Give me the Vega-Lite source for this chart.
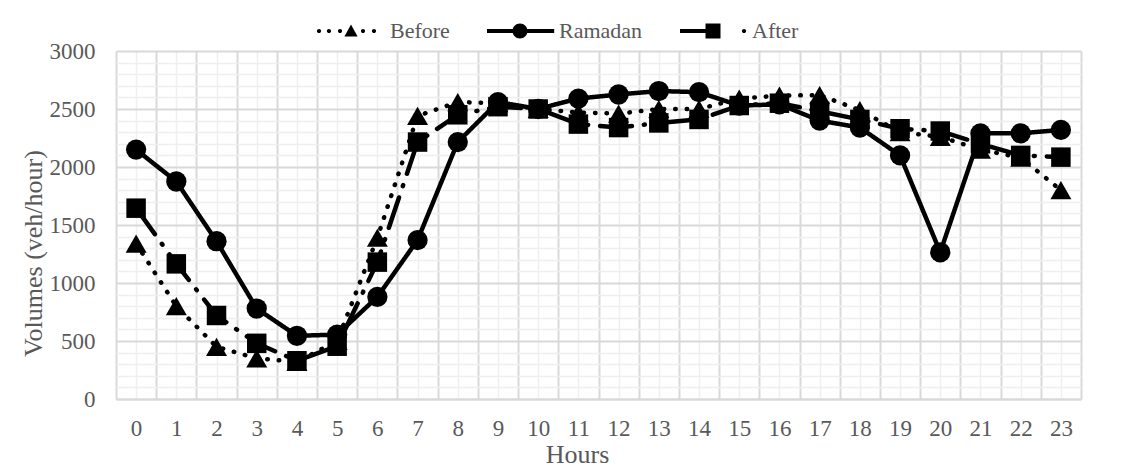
{
  "$schema": "https://vega.github.io/schema/vega-lite/v6.json",
  "width": 965,
  "height": 348,
  "autosize": "none",
  "padding": {"left": 116, "top": 51, "right": 45, "bottom": 70},
  "background": "white",
  "config": {
    "view": {"stroke": null},
    "font": "Liberation Serif"
  },
  "data": {
    "values": [
      {"hour": 0, "series": "Before", "volume": 1340},
      {"hour": 1, "series": "Before", "volume": 800},
      {"hour": 2, "series": "Before", "volume": 450},
      {"hour": 3, "series": "Before", "volume": 350},
      {"hour": 4, "series": "Before", "volume": 320},
      {"hour": 5, "series": "Before", "volume": 500},
      {"hour": 6, "series": "Before", "volume": 1390},
      {"hour": 7, "series": "Before", "volume": 2440},
      {"hour": 8, "series": "Before", "volume": 2560},
      {"hour": 9, "series": "Before", "volume": 2550},
      {"hour": 10, "series": "Before", "volume": 2500},
      {"hour": 11, "series": "Before", "volume": 2470},
      {"hour": 12, "series": "Before", "volume": 2460},
      {"hour": 13, "series": "Before", "volume": 2500},
      {"hour": 14, "series": "Before", "volume": 2500},
      {"hour": 15, "series": "Before", "volume": 2590},
      {"hour": 16, "series": "Before", "volume": 2615},
      {"hour": 17, "series": "Before", "volume": 2620},
      {"hour": 18, "series": "Before", "volume": 2490},
      {"hour": 19, "series": "Before", "volume": 2300},
      {"hour": 20, "series": "Before", "volume": 2260},
      {"hour": 21, "series": "Before", "volume": 2150},
      {"hour": 22, "series": "Before", "volume": 2080},
      {"hour": 23, "series": "Before", "volume": 1800},
      {"hour": 0, "series": "Ramadan", "volume": 2150},
      {"hour": 1, "series": "Ramadan", "volume": 1875},
      {"hour": 2, "series": "Ramadan", "volume": 1360},
      {"hour": 3, "series": "Ramadan", "volume": 780},
      {"hour": 4, "series": "Ramadan", "volume": 545},
      {"hour": 5, "series": "Ramadan", "volume": 555},
      {"hour": 6, "series": "Ramadan", "volume": 880},
      {"hour": 7, "series": "Ramadan", "volume": 1370},
      {"hour": 8, "series": "Ramadan", "volume": 2215},
      {"hour": 9, "series": "Ramadan", "volume": 2560},
      {"hour": 10, "series": "Ramadan", "volume": 2500},
      {"hour": 11, "series": "Ramadan", "volume": 2590},
      {"hour": 12, "series": "Ramadan", "volume": 2625},
      {"hour": 13, "series": "Ramadan", "volume": 2655},
      {"hour": 14, "series": "Ramadan", "volume": 2645},
      {"hour": 15, "series": "Ramadan", "volume": 2530},
      {"hour": 16, "series": "Ramadan", "volume": 2540},
      {"hour": 17, "series": "Ramadan", "volume": 2400},
      {"hour": 18, "series": "Ramadan", "volume": 2340},
      {"hour": 19, "series": "Ramadan", "volume": 2100},
      {"hour": 20, "series": "Ramadan", "volume": 1265},
      {"hour": 21, "series": "Ramadan", "volume": 2290},
      {"hour": 22, "series": "Ramadan", "volume": 2290},
      {"hour": 23, "series": "Ramadan", "volume": 2320},
      {"hour": 0, "series": "After", "volume": 1645},
      {"hour": 1, "series": "After", "volume": 1165},
      {"hour": 2, "series": "After", "volume": 720},
      {"hour": 3, "series": "After", "volume": 480},
      {"hour": 4, "series": "After", "volume": 330},
      {"hour": 5, "series": "After", "volume": 455},
      {"hour": 6, "series": "After", "volume": 1180},
      {"hour": 7, "series": "After", "volume": 2215},
      {"hour": 8, "series": "After", "volume": 2450},
      {"hour": 9, "series": "After", "volume": 2520},
      {"hour": 10, "series": "After", "volume": 2500},
      {"hour": 11, "series": "After", "volume": 2370},
      {"hour": 12, "series": "After", "volume": 2340},
      {"hour": 13, "series": "After", "volume": 2380},
      {"hour": 14, "series": "After", "volume": 2410},
      {"hour": 15, "series": "After", "volume": 2530},
      {"hour": 16, "series": "After", "volume": 2550},
      {"hour": 17, "series": "After", "volume": 2480},
      {"hour": 18, "series": "After", "volume": 2410},
      {"hour": 19, "series": "After", "volume": 2330},
      {"hour": 20, "series": "After", "volume": 2310},
      {"hour": 21, "series": "After", "volume": 2200},
      {"hour": 22, "series": "After", "volume": 2100},
      {"hour": 23, "series": "After", "volume": 2085}
    ]
  },
  "encoding": {
    "x": {
      "field": "hour",
      "type": "quantitative",
      "scale": {"domain": [-0.5, 23.5], "nice": false, "zero": false},
      "axis": {
        "values": [-0.5,0,0.5,1,1.5,2,2.5,3,3.5,4,4.5,5,5.5,6,6.5,7,7.5,8,8.5,9,9.5,10,10.5,11,11.5,12,12.5,13,13.5,14,14.5,15,15.5,16,16.5,17,17.5,18,18.5,19,19.5,20,20.5,21,21.5,22,22.5,23,23.5],
        "labelExpr": "datum.value % 1 === 0 ? format(datum.value, 'd') : ''",
        "labelOverlap": false,
        "labelFlush": false,
        "labelBound": false,
        "labelFontSize": 23,
        "labelColor": "#595959",
        "labelBaseline": "alphabetic",
        "labelPadding": 36,
        "ticks": false,
        "tickSize": 0,
        "grid": true,
        "gridColor": {"condition": {"test": "datum.value % 1 !== 0", "value": "#d9d9d9"}, "value": "#efefef"},
        "gridWidth": {"condition": {"test": "datum.value % 1 !== 0", "value": 2}, "value": 1.5},
        "domain": true,
        "domainColor": "#d9d9d9",
        "domainWidth": 2,
        "title": "Hours",
        "titleFontSize": 26,
        "titleFontWeight": "normal",
        "titleColor": "#595959",
        "titleX": 461,
        "titleY": 63,
        "titleBaseline": "alphabetic",
        "titleAlign": "center"
      }
    },
    "y": {
      "field": "volume",
      "type": "quantitative",
      "scale": {"domain": [0, 3000], "nice": false},
      "axis": {
        "values": [0,100,200,300,400,500,600,700,800,900,1000,1100,1200,1300,1400,1500,1600,1700,1800,1900,2000,2100,2200,2300,2400,2500,2600,2700,2800,2900,3000],
        "labelExpr": "datum.value % 500 === 0 ? format(datum.value, 'd') : ''",
        "labelOverlap": false,
        "labelFlush": false,
        "labelBound": false,
        "labelFontSize": 23,
        "labelColor": "#595959",
        "labelPadding": 21,
        "ticks": false,
        "tickSize": 0,
        "grid": true,
        "gridColor": {"condition": {"test": "datum.value % 500 === 0", "value": "#d9d9d9"}, "value": "#efefef"},
        "gridWidth": {"condition": {"test": "datum.value % 500 === 0", "value": 2}, "value": 1.5},
        "domain": false,
        "title": "Volumes (veh/hour)",
        "titleFontSize": 26,
        "titleFontWeight": "normal",
        "titleColor": "#595959",
        "titleAngle": 270,
        "titleX": -83,
        "titleY": 202,
        "titleBaseline": "middle",
        "titleAlign": "center"
      }
    }
  },
  "layer": [
    {
      "mark": {"type": "line", "color": "black", "strokeWidth": 4.5, "strokeCap": "round", "strokeJoin": "round"},
      "encoding": {
        "strokeDash": {
          "field": "series",
          "type": "nominal",
          "scale": {"domain": ["Before", "Ramadan", "After"], "range": [[0.5, 11], [1, 0], [32, 12, 1, 12]]},
          "legend": null
        }
      }
    },
    {
      "mark": {"type": "point", "filled": true, "color": "black", "opacity": 1},
      "encoding": {
        "shape": {
          "field": "series",
          "type": "nominal",
          "scale": {"domain": ["Before", "Ramadan", "After"], "range": ["triangle-up", "circle", "square"]},
          "legend": null
        },
        "size": {
          "field": "series",
          "type": "nominal",
          "scale": {"domain": ["Before", "Ramadan", "After"], "range": [441, 380, 361]},
          "legend": null
        }
      }
    },
    {
      "mark": {"type": "point", "filled": true, "color": "black", "opacity": 0},
      "encoding": {
        "shape": {
          "field": "series",
          "type": "nominal",
          "scale": {
            "domain": ["Before", "Ramadan", "After"],
            "range": [
              "M-1.18,0a0.35,0.35 0 1,1 0.7,0a0.35,0.35 0 1,1 -0.7,0Z M0.48,0a0.35,0.35 0 1,1 0.7,0a0.35,0.35 0 1,1 -0.7,0Z M2.32,0a0.35,0.35 0 1,1 0.7,0a0.35,0.35 0 1,1 -0.7,0Z M4.5,-1.1L5.6,0.9L3.4,0.9Z M6.15,0a0.35,0.35 0 1,1 0.7,0a0.35,0.35 0 1,1 -0.7,0Z M7.98,0a0.35,0.35 0 1,1 0.7,0a0.35,0.35 0 1,1 -0.7,0Z",
              "M-1,-0.35H10.2V0.35H-1Z M3.25,0A1.25,1.25 0 1,1 5.75,0A1.25,1.25 0 1,1 3.25,0Z",
              "M-1,-0.35H4.5V0.35H-1Z M3.25,-1.25H5.75V1.25H3.25Z M9.32,0a0.35,0.35 0 1,1 0.7,0a0.35,0.35 0 1,1 -0.7,0Z"
            ]
          },
          "legend": {
            "title": null,
            "orient": "none",
            "direction": "horizontal",
            "legendX": 197,
            "legendY": -31,
            "symbolSize": 144,
            "symbolStrokeWidth": 0,
            "symbolFillColor": "black",
            "labelFontSize": 22,
            "labelFont": "Liberation Serif",
            "labelColor": "#595959",
            "labelOffset": 55,
            "columnPadding": 32
          }
        }
      }
    }
  ],
  "resolve": {"scale": {"shape": "independent"}}
}
